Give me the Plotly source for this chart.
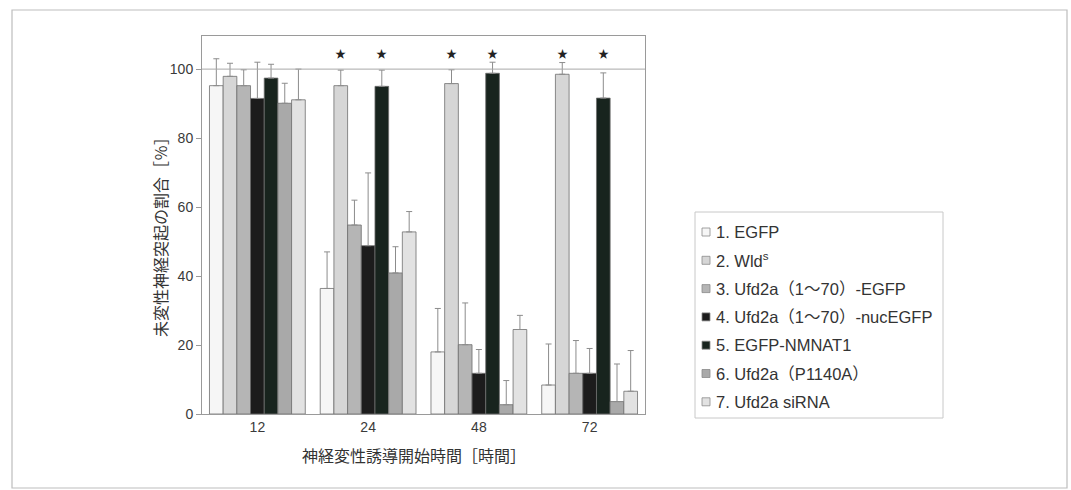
import plotly.graph_objects as go

# Time after induction of degeneration (hours)
hours = ["12", "24", "48", "72"]

series_names = [
    "1. EGFP",
    "2. Wld<sup>s</sup>",
    "3. Ufd2a（1～70）-EGFP",
    "4. Ufd2a（1～70）-nucEGFP",
    "5. EGFP-NMNAT1",
    "6. Ufd2a（P1140A）",
    "7. Ufd2a siRNA",
]

# Percentage of intact neurites (mean) per construct
egfp = [95.2, 36.4, 18.0, 8.4]
wlds = [97.9, 95.2, 95.8, 98.5]
ufd2a_egfp = [95.2, 54.8, 20.1, 11.8]
ufd2a_nuc = [91.5, 48.8, 11.8, 11.8]
nmnat1 = [97.4, 95.0, 98.8, 91.6]
p1140a = [90.1, 40.9, 2.7, 3.6]
sirna = [91.1, 52.8, 24.5, 6.6]

# Upper error (SD) per construct
egfp_err = [7.8, 10.6, 12.6, 11.9]
wlds_err = [3.8, 4.5, 4.0, 3.4]
ufd2a_egfp_err = [4.6, 7.2, 12.1, 9.5]
ufd2a_nuc_err = [10.5, 21.1, 6.9, 7.2]
nmnat1_err = [4.0, 4.7, 3.2, 7.3]
p1140a_err = [5.8, 7.6, 7.0, 10.9]
sirna_err = [8.9, 5.9, 4.1, 11.8]

# Significance markers: (hour, series index)
significant = [("24", 1), ("24", 4), ("48", 1), ("48", 4), ("72", 1), ("72", 4)]
star_level = 104.5

values = [egfp, wlds, ufd2a_egfp, ufd2a_nuc, nmnat1, p1140a, sirna]
errors = [egfp_err, wlds_err, ufd2a_egfp_err, ufd2a_nuc_err, nmnat1_err,
          p1140a_err, sirna_err]
fills = ["#f6f6f6", "#d6d6d6", "#b5b5b5", "#1c1c1c", "#18241e", "#a9a9a9", "#e2e2e2"]

BARGAP = 0.135
LATIN = "Liberation Sans, Arial, Noto Sans CJK JP, sans-serif"
CJK = "Noto Sans CJK JP, sans-serif"

# Plot-area geometry in pixels (used to place the frame and the key)
W, H = 1071, 490
L, R, T, B = 202, 426, 36, 76
PW, PH = W - L - R, H - T - B


def px_x(px):
    return (px - L) / PW


def px_y(py):
    return (H - B - py) / PH


fig = go.Figure()
for name, vals, errs, col in zip(series_names, values, errors, fills):
    fig.add_trace(go.Bar(
        x=hours, y=vals, name=name,
        marker=dict(color=col, line=dict(color="#6e6e6e", width=0.8)),
        error_y=dict(type="data", symmetric=False, array=errs,
                     arrayminus=[0] * len(errs), color="#8c8c8c",
                     thickness=1, width=3),
    ))

# Stars above the significant bars
n = len(series_names)
bar_w = (1 - BARGAP) / n
annotations = []
for hr, idx in significant:
    xpos = hours.index(hr) + (idx - (n - 1) / 2) * bar_w
    annotations.append(dict(x=xpos, y=star_level, xref="x", yref="y",
                            text="★", showarrow=False,
                            font=dict(size=11, color="#222222")))

# Axis titles
annotations.append(dict(x=px_x(160), y=px_y(233), xref="paper", yref="paper",
                        text="未変性神経突起の割合［％］", textangle=-90,
                        xanchor="center", yanchor="middle", showarrow=False,
                        font=dict(family=CJK, size=16, color="#333333")))
annotations.append(dict(x=px_x(414), y=px_y(455), xref="paper", yref="paper",
                        text="神経変性誘導開始時間［時間］", showarrow=False,
                        xanchor="center", yanchor="middle",
                        font=dict(family=CJK, size=16, color="#333333")))

shapes = [
    # reference line at 100 %
    dict(type="line", xref="paper", yref="y", x0=0, x1=1, y0=100, y1=100,
         line=dict(color="#a8a8a8", width=1)),
    # outer frame of the figure
    dict(type="rect", xref="paper", yref="paper",
         x0=px_x(12), x1=px_x(1067), y0=px_y(488), y1=px_y(10),
         line=dict(color="#bdbdbd", width=1.2), layer="below"),
    # key box
    dict(type="rect", xref="paper", yref="paper",
         x0=px_x(695), x1=px_x(943), y0=px_y(418), y1=px_y(212),
         line=dict(color="#c8c8c8", width=1), fillcolor="white", layer="below"),
]

# Key entries: swatch + label
key_top, key_step = 232, 28.3
for i, (name, col) in enumerate(zip(series_names, fills)):
    cy = key_top + i * key_step
    shapes.append(dict(type="rect", xref="paper", yref="paper",
                       x0=px_x(702), x1=px_x(710), y0=px_y(cy + 4), y1=px_y(cy - 4),
                       fillcolor=col, line=dict(color="#8a8a8a", width=0.8)))
    annotations.append(dict(x=px_x(714), y=px_y(cy), xref="paper", yref="paper",
                            text=name, showarrow=False, xanchor="left", yanchor="middle",
                            font=dict(family=LATIN, size=16.5, color="#333333")))

fig.update_layout(
    width=W, height=H,
    margin=dict(l=L, r=R, t=T, b=B),
    paper_bgcolor="white", plot_bgcolor="white",
    barmode="group", bargap=BARGAP, bargroupgap=0,
    font=dict(family=LATIN, size=14, color="#3a3a3a"),
    showlegend=False,
    annotations=annotations,
    shapes=shapes,
)
fig.update_xaxes(showline=True, linecolor="#9a9a9a", mirror=True, ticks="",
                 tickfont=dict(size=14, color="#3a3a3a"))
fig.update_yaxes(range=[0, 109.6], tickvals=[0, 20, 40, 60, 80, 100],
                 showgrid=False, zeroline=False, showline=True, linecolor="#9a9a9a",
                 mirror=True, ticks="outside", ticklen=5, tickcolor="#9a9a9a",
                 tickfont=dict(size=14, color="#3a3a3a"))

fig.write_html("out.html")
